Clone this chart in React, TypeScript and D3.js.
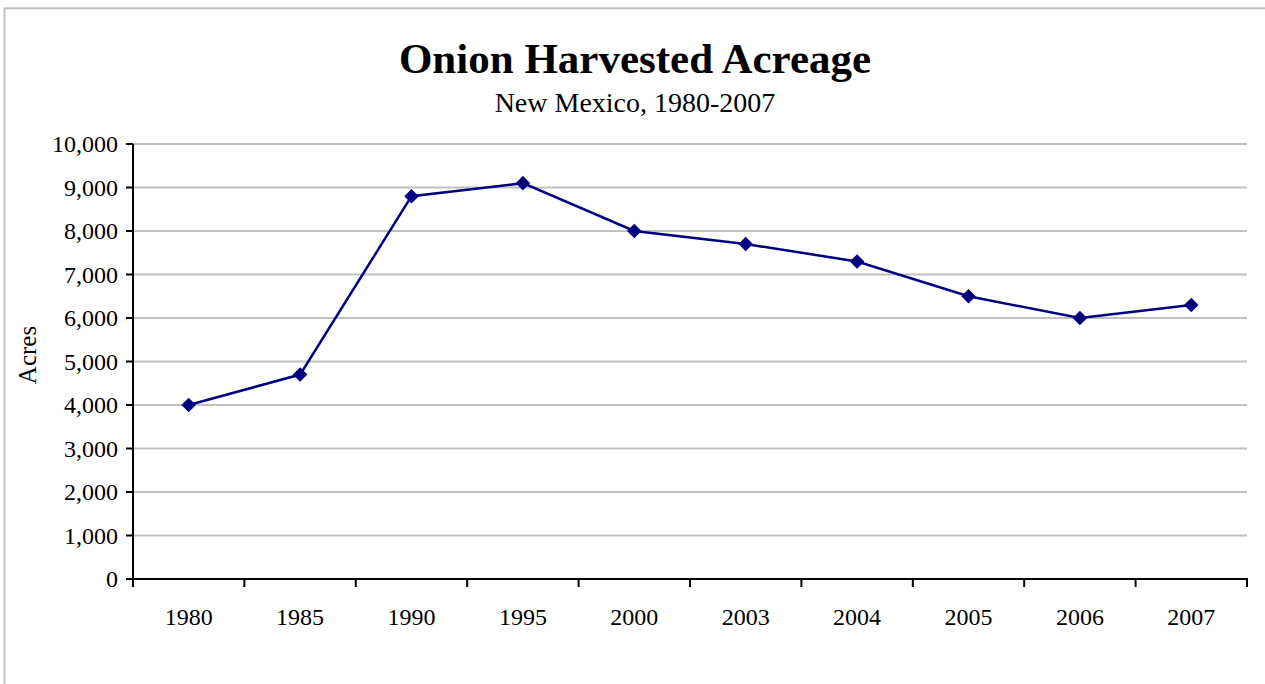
import React from "react";
import * as d3 from "d3";

const years: string[] = ["1980", "1985", "1990", "1995", "2000", "2003", "2004", "2005", "2006", "2007"];
const acres: number[] = [4000, 4700, 8800, 9100, 8000, 7700, 7300, 6500, 6000, 6300];
const yTicks: number[] = [0, 1000, 2000, 3000, 4000, 5000, 6000, 7000, 8000, 9000, 10000];
const titleText = "Onion Harvested Acreage";
const subtitleText = "New Mexico, 1980-2007";
const yAxisTitle = "Acres";

const W = 1265;
const H = 684;
const FONT = "'Liberation Serif', 'Times New Roman', serif";

export default function App() {
  const left = 133, right = 1247, top = 144, bottom = 579;
  const x = d3.scaleBand<string>().domain(years).range([left, right]).padding(0);
  const y = d3.scaleLinear().domain([0, 10000]).range([bottom, top]);
  const fmt = d3.format(",");
  const line = d3
    .line<number>()
    .x((_, i) => (x(years[i]) as number) + x.bandwidth() / 2)
    .y((d) => y(d));
  const diamond = d3.symbol().type(d3.symbolDiamond2).size(135);
  const boundaries = years.map((yr) => x(yr) as number).concat([right]);

  return (
    <svg
      width={W}
      height={H}
      style={{ position: "absolute", left: 0, top: 0, background: "#fff" }}
    >
      <rect x={4.5} y={8.3} width={1262} height={700} fill="#fff" stroke="#c0c0c0" strokeWidth={2} />
      <text x={635} y={73} textAnchor="middle" fontFamily={FONT} fontWeight="bold" fontSize={43}>
        {titleText}
      </text>
      <text x={635} y={112} textAnchor="middle" fontFamily={FONT} fontSize={28}>
        {subtitleText}
      </text>
      {yTicks.map((t) => (
        <line key={"g" + t} x1={left} x2={right} y1={y(t)} y2={y(t)} stroke="#c0c0c0" strokeWidth={2} />
      ))}
      <line x1={left} x2={left} y1={top} y2={bottom + 1} stroke="#000" strokeWidth={2} />
      <line x1={left - 1} x2={right + 1} y1={bottom} y2={bottom} stroke="#000" strokeWidth={2} />
      {yTicks.map((t) => (
        <g key={"yt" + t}>
          <line x1={left - 7} x2={left} y1={y(t)} y2={y(t)} stroke="#000" strokeWidth={2} />
          <text x={118} y={y(t)} dy="0.35em" textAnchor="end" fontFamily={FONT} fontSize={24}>
            {fmt(t)}
          </text>
        </g>
      ))}
      {boundaries.map((b, i) => (
        <line key={"xt" + i} x1={b} x2={b} y1={bottom} y2={bottom + 8} stroke="#000" strokeWidth={2} />
      ))}
      {years.map((yr) => (
        <text
          key={"xl" + yr}
          x={(x(yr) as number) + x.bandwidth() / 2}
          y={625}
          textAnchor="middle"
          fontFamily={FONT}
          fontSize={24}
        >
          {yr}
        </text>
      ))}
      <text
        transform={`translate(36,355) rotate(-90)`}
        textAnchor="middle"
        fontFamily={FONT}
        fontSize={25}
      >
        {yAxisTitle}
      </text>
      <path d={line(acres) || ""} fill="none" stroke="#000080" strokeWidth={2.5} />
      {acres.map((v, i) => (
        <path
          key={"m" + i}
          d={diamond() || ""}
          transform={`translate(${(x(years[i]) as number) + x.bandwidth() / 2},${y(v)})`}
          fill="#000080"
        />
      ))}
    </svg>
  );
}
